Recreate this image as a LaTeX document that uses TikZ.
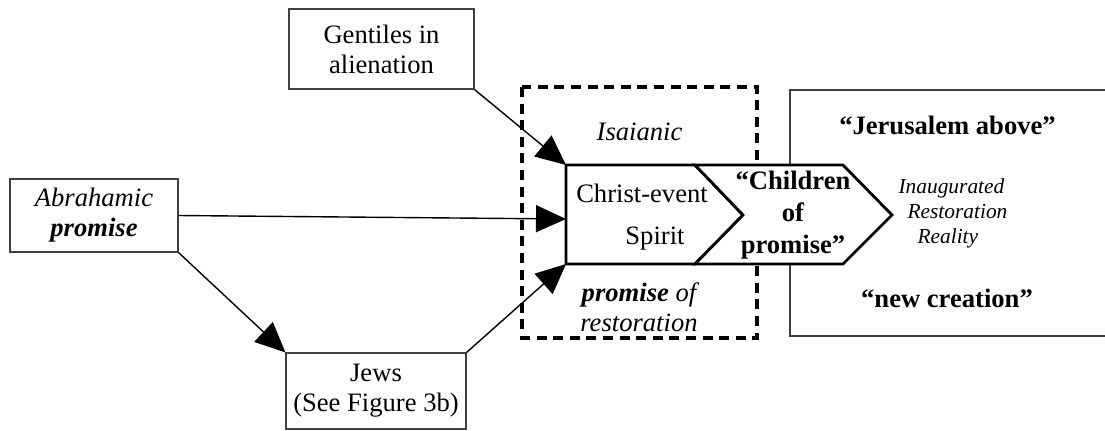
\documentclass[tikz,border=0pt]{standalone}
\usepackage{fontspec}
\setmainfont{Liberation Serif}
\usetikzlibrary{arrows.meta}

\begin{document}
\begin{tikzpicture}[x=0.5pt, y=-0.5pt,
        every node/.style={font=\fontsize{13.3}{15}\selectfont},
        box/.style={draw=black!75, line width=0.6pt, align=center, inner sep=0pt},
        arr/.style={-{Triangle[length=15pt,width=13.5pt]}, line width=0.7pt},
        chev/.style={draw, fill=white, line width=1.4pt, line join=miter}]
        \useasboundingbox (0,0) rectangle (1105,430);
        % outer frames
        \draw[draw=black!75, line width=0.6pt] (1110,90) -- (790,90) -- (790,336) -- (1110,336);
        \draw[line width=2pt, dash pattern=on 5pt off 3.3pt] (522,87) rectangle (757,338);
        % boxes on the left
        \node[box, minimum width=92.5pt, minimum height=40pt] (gent) at (381.5,49) {Gentiles in\\alienation};
        \node[box, minimum width=84pt, minimum height=36.5pt] (abr) at (94,215.5) {\textit{Abrahamic}\\\textbf{\textit{promise}}};
        \node[box, minimum width=90pt, minimum height=38pt] (jews) at (376,391) {Jews\\(See Figure 3b)};
        % chevrons
        \coordinate (christ-nw) at (566,165);
        \coordinate (christ-w) at (566,219);
        \coordinate (christ-sw) at (566,264);
        \draw[chev] (christ-nw) -- (695,165) -- (743,215) -- (695,264) -- (christ-sw) -- cycle;
        \draw[chev] (695,165) -- (843,165) -- (892,215) -- (843,264) -- (695,264) -- (743,215) -- cycle;
        \node (event) at (642,193) {Christ-event};
        \node (spirit) at (655,239) {Spirit};
        \node[align=center, font=\fontsize{13.3}{16}\selectfont\bfseries] (children) at (793,215) {“Children\\of\\promise”};
        % labels in the frames
        \node (isa) at (639.5,132) {\textit{Isaianic}};
        \node[align=center, font=\fontsize{13.3}{15}\selectfont\itshape] (restor) at (639,307) {\textbf{promise} of\\restoration};
        \node[font=\fontsize{13.3}{15}\selectfont\bfseries] (jerus) at (947.5,125) {“Jerusalem above”};
        \node[font=\fontsize{13.3}{15}\selectfont\bfseries] (newcr) at (947,298) {“new creation”};
        \node[align=left, font=\fontsize{10.7}{12.5}\selectfont\itshape] (reality) at (953,213) {Inaugurated\\\hspace*{4.5pt}Restoration\\\hspace*{9.5pt}Reality};
        % arrows
        \draw[arr] (gent.south east) -- (christ-nw);
        \draw[arr] (abr.east) -- (christ-w);
        \draw[arr] (abr.south east) -- (jews.north west);
        \draw[arr] (jews.north east) -- (christ-sw);
\end{tikzpicture}
\end{document}
